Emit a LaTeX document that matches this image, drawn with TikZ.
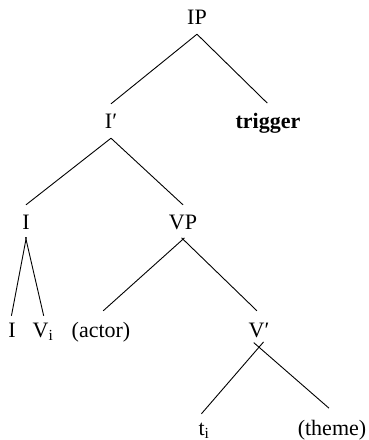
\documentclass[tikz,border=0pt]{standalone}
\usepackage{fontspec}
\setmainfont{Liberation Serif}
\begin{document}
\begin{tikzpicture}[x=1pt,y=-1pt,
  lab/.style={anchor=base,inner xsep=0pt,inner ysep=4pt,text height=20pt,text depth=6pt,
    font=\fontsize{22}{26}\selectfont},
  leaf/.style={lab,inner ysep=0pt,text height=24pt,text depth=0pt},
  branch/.style={line width=0.9pt}]
\useasboundingbox (0,0) rectangle (368,440);
% nodes (x = text centre, y = baseline)
\node[lab] (ip) at (197,24) {IP};
\node[lab] (ibar) at (111,128) {I′};
\node[lab,font=\fontsize{22}{26}\selectfont\bfseries] (trig) at (268,128) {trigger};
\node[lab] (i) at (26,229) {I};
\node[lab] (vp) at (183,229) {VP};
\node[lab] (ib) at (12,337) {I};
\node[lab] (vi) at (43,337) {V\textsubscript{i}};
\node[lab] (actor) at (101,337) {(actor)};
\node[lab] (vbar) at (259,337) {V′};
\node[leaf] (ti) at (204,435) {t\textsubscript{i}};
\node[leaf] (theme) at (332,435) {(theme)};
% branches
\draw[branch] (ip.south) -- (ibar.north);
\draw[branch,shorten >=1pt] (ip.south) -- (trig.north);
\draw[branch] (ibar.south) -- (i.north);
\draw[branch] (ibar.south) -- (vp.north);
\draw[branch,shorten <=-2pt,shorten >=3pt] (vp.south) -- (actor.north);
\draw[branch,shorten <=-2pt,shorten >=3pt] (vp.south) -- (vbar.north);
\draw[branch,shorten <=-2pt,shorten >=-3pt] (i.south) -- (ib.north);
\draw[branch,shorten <=-2pt,shorten >=-3pt] (i.south) -- (vi.north);
\draw[branch,shorten <=-7pt,shorten >=-4pt] (vbar.south) -- (ti.north);
\draw[branch,shorten <=-7pt,shorten >=4pt] (vbar.south) -- (theme.north);
\end{tikzpicture}
\end{document}
